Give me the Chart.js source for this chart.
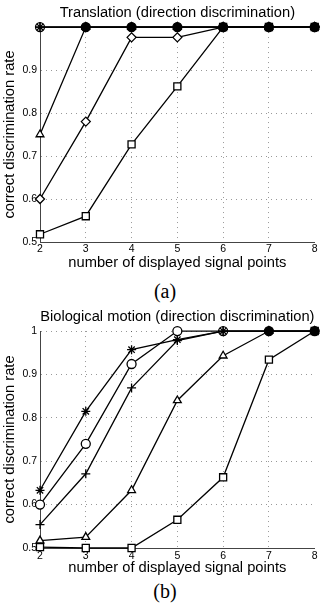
<!DOCTYPE html>
<html>
<head>
<meta charset="utf-8">
<script src="https://cdn.jsdelivr.net/npm/chart.js@4.4.0/dist/chart.umd.min.js"></script>
<style>
    body {
        margin: 0;
        background: #fff;
    }
    .page {
        position: relative;
        width: 321px;
        height: 611px;
    }
    canvas {
        position: absolute;
        left: 0;
    }
    .caption {
        position: absolute;
        left: 0;
        width: 330px;
        text-align: center;
        font-family: 'Liberation Serif', serif;
        font-size: 20px;
        line-height: 20px;
        color: #000;
    }
</style>
</head>
<body>
<div class="page">
    <canvas id="translationChart" width="321" height="272" style="top: 0;"></canvas>
    <div class="caption" style="top: 281px;">(a)</div>
    <canvas id="bioChart" width="321" height="277" style="top: 300px;"></canvas>
    <div class="caption" style="top: 581px;">(b)</div>
</div>
<script>
const pointCounts = [2, 3, 4, 5, 6, 7, 8];
const rateTicks = [0.5, 0.6, 0.7, 0.8, 0.9, 1];

// (a) translation
const transCircle = [1, 1, 1, 1, 1, 1, 1];
const transStar = [1, 1, 1, 1, 1, 1, 1];
const transPlus = [1, 1, 1, 1, 1, 1, 1];
const transTriangle = [0.75, 1, 1, 1, 1, 1, 1];
const transDiamond = [0.60, 0.78, 0.976, 0.976, 1, 1, 1];
const transSquare = [0.518, 0.56, 0.727, 0.862, 1, 1, 1];

// (b) biological motion
const bioStar = [0.633, 0.815, 0.957, 0.98, 1, 1, 1];
const bioCircle = [0.60, 0.74, 0.924, 1, 1, 1, 1];
const bioPlus = [0.554, 0.671, 0.869, 0.978, 1, 1, 1];
const bioTriangle = [0.517, 0.525, 0.633, 0.84, 0.943, 1, 1];
const bioSquare = [0.502, 0.50, 0.50, 0.565, 0.663, 0.934, 1];

const font = 'Liberation Sans, Arial, sans-serif';

// first dataset is drawn on top, so circles go last
makeChart('translationChart', 'Translation (direction discrimination)', [
    { values: transStar, style: 'star' },
    { values: transPlus, style: 'cross' },
    { values: transTriangle, style: 'triangle' },
    { values: transDiamond, style: 'rectRot' },
    { values: transSquare, style: 'rect' },
    { values: transCircle, style: 'circle' }
], { titlePad: { top: 4.4, bottom: 5 }, xHeight: 30, tickPad: 1, hideTop: true });

makeChart('bioChart', 'Biological motion (direction discrimination)', [
    { values: bioStar, style: 'star' },
    { values: bioPlus, style: 'cross' },
    { values: bioTriangle, style: 'triangle' },
    { values: bioSquare, style: 'rect' },
    { values: bioCircle, style: 'circle' }
], { titlePad: { top: 7.8, bottom: 5.6 }, xHeight: 29, tickPad: 2, hideTop: false });

function makeChart(id, title, series, opts) {
    // where four or more curves sit on 1 the print smears them into a black blob
    const fullCount = pointCounts.map((x, i) =>
        series.filter((s) => s.values[i] >= 1).length
    );

    const datasets = series.map((s) => ({
        data: s.values.map((v, i) => ({ x: pointCounts[i], y: v })),
        borderColor: '#000',
        borderWidth: 1.3,
        pointStyle: s.style,
        pointRadius: s.style === 'rect' ? 5 : 4.5,
        pointBorderWidth: 1.3,
        pointBorderColor: '#000',
        pointBackgroundColor: (ctx) =>
            ctx.raw && ctx.raw.y >= 1 && fullCount[ctx.dataIndex] >= 4 ? '#000' : '#fff',
        tension: 0,
        clip: false
    }));

    return new Chart(document.getElementById(id), {
        type: 'line',
        data: { datasets },
        options: {
            responsive: false,
            animation: false,
            devicePixelRatio: 1,
            layout: { padding: { left: 0, right: 5, top: 0, bottom: 0 } },
            plugins: {
                legend: { display: false },
                tooltip: { enabled: false },
                title: {
                    display: true,
                    fullSize: false,
                    text: title,
                    color: '#000',
                    font: { family: font, size: 14.7, weight: 'normal' },
                    padding: opts.titlePad
                }
            },
            scales: {
                x: {
                    type: 'linear',
                    min: 2,
                    max: 8,
                    afterBuildTicks: (scale) => {
                        scale.ticks = pointCounts.map((v) => ({ value: v }));
                    },
                    afterFit: (scale) => {
                        scale.height = opts.xHeight;
                    },
                    ticks: {
                        color: '#000',
                        padding: opts.tickPad,
                        maxRotation: 0,
                        font: { family: font, size: 10.5 }
                    },
                    grid: {
                        drawTicks: false,
                        color: (ctx) => ctx.tick && ctx.tick.value === 8 ? 'rgba(0,0,0,0)' : 'rgba(0,0,0,0.4)',
                        lineWidth: 1
                    },
                    border: { color: '#444', width: 1, dash: [1, 4] },
                    title: {
                        display: true,
                        text: 'number of displayed signal points',
                        color: '#000',
                        padding: 0,
                        font: { family: font, size: 14.7 }
                    }
                },
                y: {
                    min: 0.5,
                    max: 1,
                    afterBuildTicks: (scale) => {
                        scale.ticks = rateTicks.map((v) => ({ value: v }));
                    },
                    afterFit: (scale) => {
                        scale.width = 40;
                    },
                    ticks: {
                        color: '#000',
                        padding: 3,
                        font: { family: font, size: 10.5 },
                        callback: (value) => (opts.hideTop && value === 1) ? '' : String(value)
                    },
                    grid: {
                        drawTicks: false,
                        color: 'rgba(0,0,0,0.4)',
                        lineWidth: 1
                    },
                    border: { color: '#444', width: 1, dash: [1, 4] },
                    title: {
                        display: true,
                        text: 'correct discrimination rate',
                        color: '#000',
                        padding: { top: 1, bottom: 0 },
                        font: { family: font, size: 14.7 }
                    }
                }
            }
        }
    });
}
</script>
</body>
</html>
